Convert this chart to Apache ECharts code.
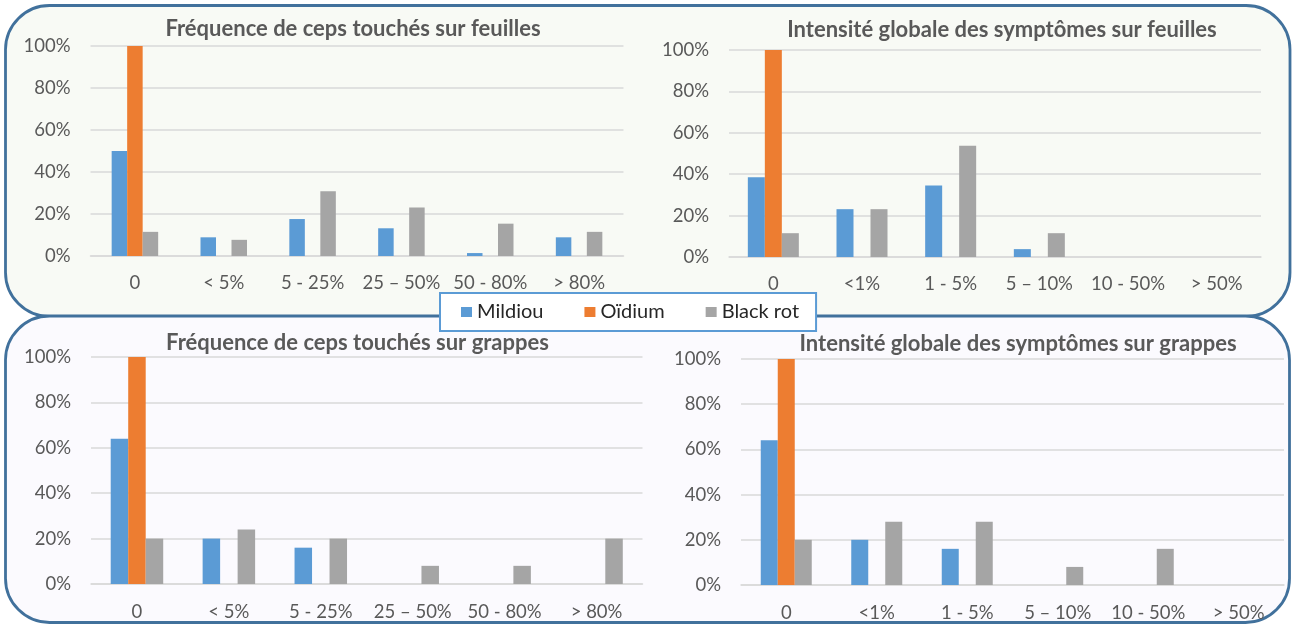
<!DOCTYPE html>
<html><head><meta charset="utf-8">
<script src="https://cdn.jsdelivr.net/npm/echarts@6/dist/echarts.min.js"></script>
<style>html,body{margin:0;padding:0;background:#fff}#c{width:1296px;height:625px}</style>
</head><body><div id="c"></div>
<script>
const seriesNames = ['Mildiou', 'Oïdium', 'Black rot'];
const colors = ['#5b9bd5', '#ed7d31', '#a5a5a5'];

const titles = [
  'Fréquence de ceps touchés sur feuilles',
  'Intensité globale des symptômes sur feuilles',
  'Fréquence de ceps touchés sur grappes',
  'Intensité globale des symptômes sur grappes'
];
const freqCategories = ['0', '< 5%', '5 - 25%', '25 – 50%', '50 - 80%', '> 80%'];
const intCategories = ['0', '<1%', '1 - 5%', '5 – 10%', '10 - 50%', '> 50%'];

// Chart 1: fréquence feuilles
const freqLeavesMildiou = [50, 8.9, 17.6, 13.2, 1.4, 8.9];
const freqLeavesOidium = [100, 0, 0, 0, 0, 0];
const freqLeavesBlackrot = [11.5, 7.7, 30.8, 23.1, 15.4, 11.5];
// Chart 2: intensité feuilles
const intLeavesMildiou = [38.5, 23.1, 34.6, 3.8, 0, 0];
const intLeavesOidium = [100, 0, 0, 0, 0, 0];
const intLeavesBlackrot = [11.5, 23.1, 53.8, 11.5, 0, 0];
// Chart 3: fréquence grappes
const freqBunchMildiou = [64, 20, 16, 0, 0, 0];
const freqBunchOidium = [100, 0, 0, 0, 0, 0];
const freqBunchBlackrot = [20, 24, 20, 8, 8, 20];
// Chart 4: intensité grappes
const intBunchMildiou = [64, 20, 16, 0, 0, 0];
const intBunchOidium = [100, 0, 0, 0, 0, 0];
const intBunchBlackrot = [20, 28, 28, 8, 16, 0];

const yTicks = { min: 0, max: 100, interval: 20 };

const FONT = 'Lato';
const panels = [
  { cats: freqCategories, data: [freqLeavesMildiou, freqLeavesOidium, freqLeavesBlackrot], grid: { left: 90.5, top: 46, width: 533, height: 210 }, tx: 353, ty: 18, bw: 15.5, lm: 18 },
  { cats: intCategories, data: [intLeavesMildiou, intLeavesOidium, intLeavesBlackrot], grid: { left: 729, top: 50, width: 532, height: 207 }, tx: 1002, ty: 19, bw: 17, lm: 18 },
  { cats: freqCategories, data: [freqBunchMildiou, freqBunchOidium, freqBunchBlackrot], grid: { left: 91, top: 357, width: 551.5, height: 227 }, tx: 357.5, ty: 332, bw: 17.5, lm: 19 },
  { cats: intCategories, data: [intBunchMildiou, intBunchOidium, intBunchBlackrot], grid: { left: 741, top: 359, width: 543, height: 226 }, tx: 1018, ty: 333, bw: 17, lm: 19 }
];

const option = {
  animation: false,
  textStyle: { fontFamily: FONT },
  graphic: [
    { type: 'rect', z: -10, shape: { x: 5.5, y: 5.5, width: 1284.5, height: 311, r: 44 },
      style: { fill: '#f8faf5', stroke: '#41719c', lineWidth: 2.8 } },
    { type: 'rect', z: -9, shape: { x: 5.5, y: 316, width: 1284, height: 306.5, r: 44 },
      style: { fill: '#fbfafe', stroke: '#41719c', lineWidth: 2.8 } }
  ],
  title: panels.map((p, i) => ({
    text: titles[i], left: p.tx, top: p.ty, textAlign: 'center', padding: 0,
    textStyle: { fontFamily: FONT, fontSize: 22, fontWeight: 'bold', color: '#595959' }
  })),
  legend: {
    data: seriesNames, left: 440, top: 293, z: 10,
    backgroundColor: '#ffffff', borderColor: '#5b9bd5', borderWidth: 2,
    padding: [9, 17, 9, 21], itemWidth: 11, itemHeight: 10, itemGap: 41,
    icon: 'rect',
    textStyle: { fontFamily: FONT, fontSize: 20, color: '#262626' }
  },
  grid: panels.map(p => Object.assign({}, p.grid)),
  xAxis: panels.map((p, i) => ({
    type: 'category', gridIndex: i, data: p.cats,
    axisLine: { lineStyle: { color: '#d9d9d9', width: 1.5 } },
    axisTick: { show: false },
    axisLabel: { color: '#595959', fontSize: 18.5, fontFamily: FONT, margin: p.lm, interval: 0 }
  })),
  yAxis: panels.map((p, i) => ({
    type: 'value', gridIndex: i, min: yTicks.min, max: yTicks.max, interval: yTicks.interval,
    axisLine: { show: false }, axisTick: { show: false },
    splitLine: { lineStyle: { color: '#d9d9d9', width: 1.5 } },
    axisLabel: { color: '#595959', fontSize: 18.5, fontFamily: FONT, margin: 20, formatter: '{value}%' }
  })),
  series: []
};

panels.forEach((p, i) => {
  seriesNames.forEach((name, k) => {
    option.series.push({
      type: 'bar', name: name, xAxisIndex: i, yAxisIndex: i,
      data: p.data[k], barWidth: p.bw, barGap: '0%',
      itemStyle: { color: colors[k] }
    });
  });
});

const chart = echarts.init(document.getElementById('c'));
chart.setOption(option);
</script>
</body></html>
